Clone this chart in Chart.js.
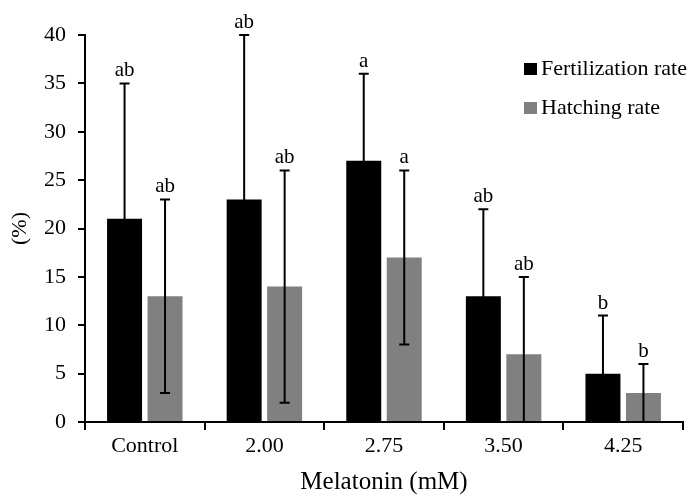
<!DOCTYPE html>
<html lang="en">
<head>
    <meta charset="UTF-8">
    <title>Melatonin</title>
    <script src="https://cdn.jsdelivr.net/npm/chart.js"></script>
    <style>
        body {
            margin: 0;
            background: white;
        }
        .wrap {
            width: 692px;
            height: 497px;
            position: relative;
        }
    </style>
</head>
<body>
    <div class="wrap"><canvas id="chart"></canvas></div>

    <script>
        const categories = ["Control", "2.00", "2.75", "3.50", "4.25"];
        const fertilization = [21, 23, 27, 13, 5];
        const fertilizationSD = [14, 17, 9, 9, 6];
        const fertilizationLetters = ["ab", "ab", "a", "ab", "b"];
        const hatching = [13, 14, 17, 7, 3];
        const hatchingSD = [10, 12, 9, 8, 3];
        const hatchingLetters = ["ab", "ab", "a", "ab", "b"];

        const serif = "'Liberation Serif', 'Times New Roman', serif";

        // error bars + significance letters
        const errorBars = {
            id: "errorBars",
            afterDatasetsDraw(chart) {
                const ctx = chart.ctx;
                const y = chart.scales.y;
                ctx.save();
                ctx.strokeStyle = "#000";
                ctx.lineWidth = 2;
                ctx.fillStyle = "#000";
                ctx.font = "21px " + serif;
                ctx.textAlign = "center";
                ctx.textBaseline = "bottom";
                chart.data.datasets.forEach((ds, i) => {
                    chart.getDatasetMeta(i).data.forEach((bar, j) => {
                        const v = ds.data[j];
                        const hi = y.getPixelForValue(v + ds.sd[j]);
                        const lo = y.getPixelForValue(Math.max(0, v - ds.sd[j]));
                        ctx.beginPath();
                        ctx.moveTo(bar.x, lo);
                        ctx.lineTo(bar.x, hi);
                        ctx.moveTo(bar.x - 5, hi);
                        ctx.lineTo(bar.x + 5, hi);
                        if (v - ds.sd[j] > 0) {
                            ctx.moveTo(bar.x - 5, lo);
                            ctx.lineTo(bar.x + 5, lo);
                        }
                        ctx.stroke();
                        ctx.fillText(ds.letters[j], bar.x, hi - 2);
                    });
                });
                ctx.restore();
            }
        };

        const legendBox = {
            id: "legendBox",
            afterDraw(chart) {
                const ctx = chart.ctx;
                ctx.save();
                ctx.font = "22px " + serif;
                ctx.textBaseline = "middle";
                ctx.textAlign = "left";
                chart.data.datasets.forEach((ds, i) => {
                    const cy = 69 + i * 39;
                    ctx.fillStyle = ds.backgroundColor;
                    ctx.fillRect(524, cy - 6, 13, 12);
                    ctx.fillStyle = "#000";
                    ctx.fillText(ds.label, 541, cy);
                });
                ctx.restore();
            }
        };

        new Chart(document.getElementById("chart"), {
            type: "bar",
            data: {
                labels: categories,
                datasets: [
                    {
                        label: "Fertilization rate",
                        data: fertilization,
                        sd: fertilizationSD,
                        letters: fertilizationLetters,
                        backgroundColor: "#000000"
                    },
                    {
                        label: "Hatching rate",
                        data: hatching,
                        sd: hatchingSD,
                        letters: hatchingLetters,
                        backgroundColor: "#808080"
                    }
                ]
            },
            options: {
                responsive: true,
                maintainAspectRatio: false,
                animation: false,
                categoryPercentage: 0.677,
                barPercentage: 0.864,
                layout: { padding: { top: 35, right: 9, left: 0, bottom: 0 } },
                plugins: {
                    legend: { display: false },
                    tooltip: { enabled: false }
                },
                scales: {
                    x: {
                        grid: { drawOnChartArea: false, color: "#000", lineWidth: 2, tickLength: 8 },
                        border: { color: "#000", width: 2 },
                        ticks: { color: "#000", font: { family: serif, size: 22 }, padding: 3 },
                        title: {
                            display: true,
                            text: "Melatonin (mM)",
                            color: "#000",
                            font: { family: serif, size: 25 },
                            padding: { top: 2, bottom: 0 }
                        },
                        afterFit(scale) { scale.height = 75; }
                    },
                    y: {
                        min: 0,
                        max: 40,
                        ticks: { stepSize: 5, color: "#000", font: { family: serif, size: 22 }, padding: 12 },
                        grid: { drawOnChartArea: false, color: "#000", lineWidth: 2, tickLength: 7 },
                        border: { color: "#000", width: 2 },
                        title: {
                            display: true,
                            text: "(%)",
                            color: "#000",
                            font: { family: serif, size: 22 },
                            padding: { top: 7, bottom: 0 }
                        },
                        afterFit(scale) { scale.width = 85; }
                    }
                }
            },
            plugins: [errorBars, legendBox]
        });
    </script>
</body>
</html>
